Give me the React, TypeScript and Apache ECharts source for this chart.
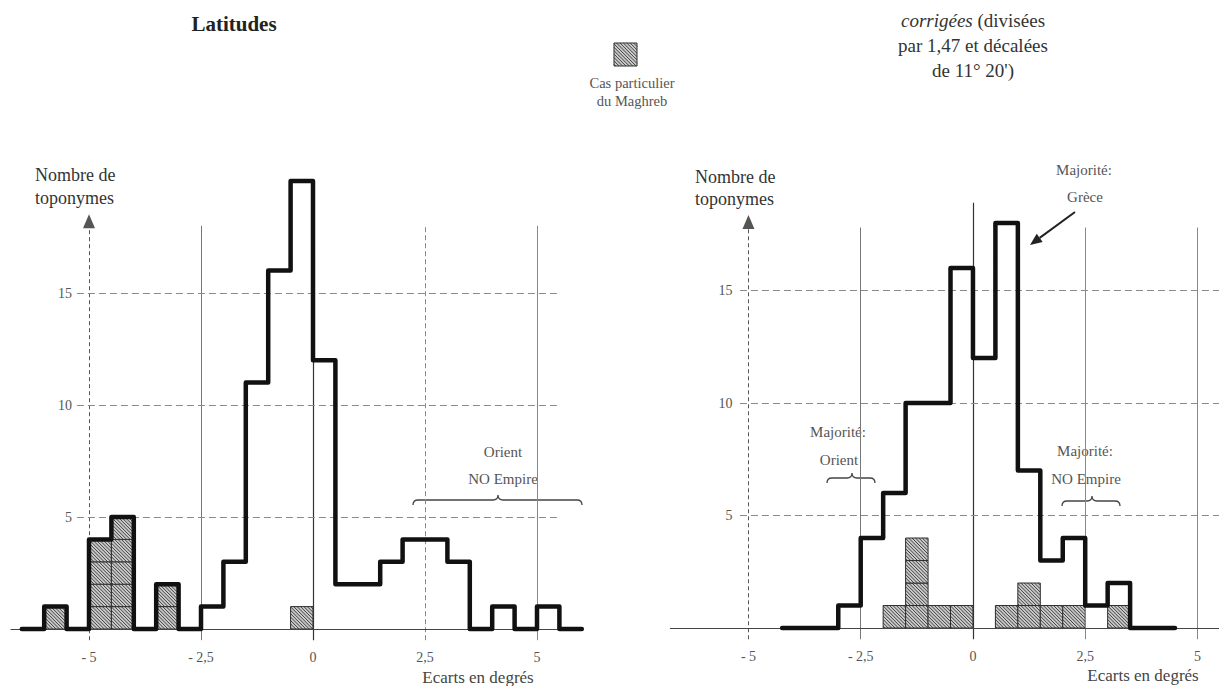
import React, { useEffect, useRef } from 'react';
import * as echarts from 'echarts';

// ---------- data ----------
const BIN_WIDTH = 0.5;

// Left histogram: latitudes
const leftBinStarts = [-6.5, -6, -5.5, -5, -4.5, -4, -3.5, -3, -2.5, -2, -1.5, -1, -0.5, 0, 0.5, 1, 1.5, 2, 2.5, 3, 3.5, 4, 4.5, 5, 5.5];
const leftCounts = [0, 1, 0, 4, 5, 0, 2, 0, 1, 3, 11, 16, 20, 12, 2, 2, 3, 4, 4, 3, 0, 1, 0, 1, 0];
const leftMaghrebStarts = [-6, -5, -4.5, -3.5, -0.5];
const leftMaghrebCounts = [1, 4, 5, 2, 1];

// Right histogram: longitudes corrigées
const rightStepStart = -4.25;
const rightBinStarts = [-4, -3.5, -3, -2.5, -2, -1.5, -1, -0.5, 0, 0.5, 1, 1.5, 2, 2.5, 3, 3.5, 4];
const rightCounts = [0, 0, 1, 4, 6, 10, 10, 16, 12, 18, 7, 3, 4, 1, 2, 0, 0];
const rightMaghrebStarts = [-2, -1.5, -1, -0.5, 0.5, 1, 1.5, 2, 3];
const rightMaghrebCounts = [1, 4, 1, 1, 1, 2, 1, 1, 1];

const xTickValues = [-5, -2.5, 0, 2.5, 5];
const yTickValues = [5, 10, 15];
const verticalGuideValues = [-2.5, 0, 2.5, 5];
const horizontalGuideValues = [5, 10, 15];

// ---------- layout ----------
const W = 1219;
const H = 686;
const FONT = 'Liberation Serif';

const LEFT = { xMin: -6.75, xMax: 6.25, yMin: -0.75, yMax: 20.5, left: 10.6, top: 169.8, width: 582.4, height: 476, yOffset: -78.4 };
const RIGHT = { xMin: -6.75, xMax: 5.5, yMin: -0.75, yMax: 20, left: 669.9, top: 178, width: 550, height: 466.9, yOffset: -79.5 };

function stepPoints(start: number | null, bins: number[], counts: number[]) {
  const pts: number[][] = [];
  if (start !== null) pts.push([start, 0]);
  bins.forEach((b, i) => {
    pts.push([b, counts[i]]);
    pts.push([b + BIN_WIDTH, counts[i]]);
  });
  return pts;
}

function hatchChildren(x: number, y: number, w: number, h: number) {
  const step = 3.4;
  const out: any[] = [{ type: 'rect', shape: { x, y, width: w, height: h }, style: { fill: '#c9c9c9' } }];
  for (let k = -h + step / 2; k < w; k += step) {
    const xs = Math.max(0, k);
    const xe = Math.min(w, h + k);
    if (xe - xs > 0.5) {
      out.push({ type: 'line', shape: { x1: x + xs, y1: y + xs - k, x2: x + xe, y2: y + xe - k }, style: { stroke: '#404040', lineWidth: 1 } });
    }
  }
  out.push({ type: 'rect', shape: { x, y, width: w, height: h }, style: { fill: 'none', stroke: '#2e2e2e', lineWidth: 1 } });
  return out;
}

function bracePath(x1: number, x2: number, y: number, tipX: number, d: number) {
  return `M ${x1} ${y + d} Q ${x1} ${y} ${x1 + d} ${y} L ${tipX - d} ${y} Q ${tipX} ${y} ${tipX} ${y - d} Q ${tipX} ${y} ${tipX + d} ${y} L ${x2 - d} ${y} Q ${x2} ${y} ${x2} ${y + d}`;
}

echarts.graphic.registerShape('braceLeftOrient', echarts.graphic.extendPath(bracePath(413, 582, 500, 498, 5), {}));
echarts.graphic.registerShape('braceRightOrient', echarts.graphic.extendPath(bracePath(827, 875, 478, 852, 5), {}));
echarts.graphic.registerShape('braceRightEmpire', echarts.graphic.extendPath(bracePath(1062, 1120, 501, 1092, 5), {}));

function fmtTick(v: number) {
  if (v === 0) return '0';
  const s = String(Math.abs(v)).replace('.', ',');
  return v < 0 ? '- ' + s : s;
}

function mkX(gridIndex: number, g: any) {
  return {
    type: 'value', gridIndex, min: g.xMin, max: g.xMax,
    axisLine: { show: false, onZero: false }, axisTick: { show: false }, splitLine: { show: false },
    axisLabel: { customValues: xTickValues, formatter: fmtTick, margin: 5, fontSize: 14, color: '#555', fontFamily: FONT },
  };
}
function mkY(gridIndex: number, g: any) {
  return {
    type: 'value', gridIndex, min: g.yMin, max: g.yMax, offset: g.yOffset,
    axisLine: { show: false, onZero: false }, axisTick: { show: false }, splitLine: { show: false },
    axisLabel: { customValues: yTickValues, margin: 17, fontSize: 14, color: '#555', fontFamily: FONT, padding: [0, 0, 5, 0] },
  };
}

function guideLines(cfg: any) {
  const data: any[] = [];
  data.push([
    { coord: [-5, -0.5], symbol: 'none', lineStyle: { type: [4, 3], color: '#555', width: 1 } },
    { coord: [-5, cfg.arrowTop], symbol: 'triangle', symbolSize: [12, 14], itemStyle: { color: '#222' } },
  ]);
  verticalGuideValues.forEach((v, i) => {
    data.push([
      { coord: [v, -0.5], symbol: 'none', lineStyle: cfg.vStyles[i] },
      { coord: [v, v === 0 ? cfg.zeroTop : cfg.vTop], symbol: 'none' },
    ]);
  });
  horizontalGuideValues.forEach((v) => {
    data.push([
      { coord: [cfg.hFrom, v], symbol: 'none', lineStyle: { type: [7, 4], color: '#8a8a8a', width: 1 } },
      { coord: [cfg.hTo, v], symbol: 'none' },
    ]);
  });
  data.push([
    { coord: [cfg.baseFrom, 0], symbol: 'none', lineStyle: { type: 'solid', color: '#444', width: 1 } },
    { coord: [cfg.baseTo, 0], symbol: 'none' },
  ]);
  return data;
}

function guideSeries(idx: number, cfg: any) {
  return {
    type: 'line', xAxisIndex: idx, yAxisIndex: idx, data: [[-5, 0]], symbol: 'none', silent: true, z: 1,
    lineStyle: { opacity: 0 },
    markLine: { silent: true, symbol: ['none', 'none'], label: { show: false }, animation: false, data: guideLines(cfg) },
  };
}

function hatchSeries(idx: number, starts: number[], counts: number[]) {
  return {
    type: 'custom', xAxisIndex: idx, yAxisIndex: idx, silent: true, z: 2,
    data: starts.map((s, i) => [s, counts[i]]),
    encode: { x: 0, y: 1 },
    renderItem: (params: any, api: any) => {
      const x0 = api.value(0);
      const n = api.value(1);
      const children: any[] = [];
      for (let j = 0; j < n; j++) {
        const tl = api.coord([x0, j + 1]);
        const br = api.coord([x0 + BIN_WIDTH, j]);
        children.push(...hatchChildren(tl[0], tl[1], br[0] - tl[0], br[1] - tl[1]));
      }
      return { type: 'group', children };
    },
  };
}

function stepSeries(idx: number, pts: number[][]) {
  return {
    type: 'line', xAxisIndex: idx, yAxisIndex: idx, data: pts, symbol: 'none', showSymbol: false, silent: true, z: 5,
    lineStyle: { color: '#111', width: 4.5, cap: 'round', join: 'round' },
  };
}

function txt(text: string, x: number, y: number, size: number, opts: any = {}) {
  return {
    type: 'text', x, y, silent: true,
    style: { text, fontSize: size, fontFamily: FONT, fill: opts.fill || '#444', align: opts.align || 'center', verticalAlign: 'middle', fontWeight: opts.bold ? 'bold' : 'normal' },
  };
}

function buildOption() {
  const leftCfg = {
    arrowTop: 18.2, vTop: 18, zeroTop: 18, hFrom: -5.27, hTo: 5.45, baseFrom: -6.75, baseTo: 6.0,
    vStyles: [
      { type: 'solid', color: '#777', width: 1 },
      { type: 'solid', color: '#333', width: 1.2 },
      { type: [5, 3], color: '#888', width: 1 },
      { type: 'solid', color: '#888', width: 1 },
    ],
  };
  const rightCfg = {
    arrowTop: 18.05, vTop: 17.8, zeroTop: 18.9, hFrom: -5.19, hTo: 5.5, baseFrom: -6.75, baseTo: 5.5,
    vStyles: [
      { type: 'solid', color: '#777', width: 1 },
      { type: 'solid', color: '#333', width: 1.2 },
      { type: 'solid', color: '#888', width: 1 },
      { type: 'solid', color: '#888', width: 1 },
    ],
  };

  // annotation arrow (Majorité: Grèce)
  const ax1 = 1075, ay1 = 212, ax2 = 1030, ay2 = 245;
  const len = Math.hypot(ax2 - ax1, ay2 - ay1);
  const ux = (ax2 - ax1) / len, uy = (ay2 - ay1) / len;
  const bx = ax2 - 12 * ux, by = ay2 - 12 * uy;
  const px = -uy * 5, py = ux * 5;

  const graphic: any[] = [
    txt('Latitudes', 234, 24, 21, { bold: true, fill: '#222' }),
    {
      type: 'text', x: 973, y: 20, silent: true,
      style: {
        text: '{i|corrigées}{n| (divisées}', fontSize: 19, fontFamily: FONT, fill: '#333', align: 'center', verticalAlign: 'middle',
        rich: {
          i: { fontStyle: 'italic', fontSize: 19, fontFamily: FONT, fill: '#333' },
          n: { fontSize: 19, fontFamily: FONT, fill: '#333' },
        },
      },
    },
    txt('par 1,47 et décalées', 973, 45, 19, { fill: '#333' }),
    txt("de 11° 20')", 973, 70, 19, { fill: '#333' }),
    { type: 'group', silent: true, children: hatchChildren(614, 43, 23, 23) },
    txt('Cas particulier', 632, 83, 14.5, { fill: '#555' }),
    txt('du Maghreb', 632, 101, 14.5, { fill: '#555' }),
    txt('Nombre de', 35, 175, 18, { align: 'left', fill: '#333' }),
    txt('toponymes', 35, 198, 18, { align: 'left', fill: '#333' }),
    txt('Nombre de', 695, 177, 18, { align: 'left', fill: '#333' }),
    txt('toponymes', 695, 199, 18, { align: 'left', fill: '#333' }),
    txt('Majorité:', 1084, 170, 15, { fill: '#555' }),
    txt('Grèce', 1085, 197, 15, { fill: '#555' }),
    { type: 'line', silent: true, shape: { x1: ax1, y1: ay1, x2: bx, y2: by }, style: { stroke: '#222', lineWidth: 2 } },
    { type: 'polygon', silent: true, shape: { points: [[ax2, ay2], [bx + px, by + py], [bx - px, by - py]] }, style: { fill: '#222' } },
    txt('Orient', 503, 452, 15, { fill: '#555' }),
    txt('NO Empire', 503, 479, 15, { fill: '#555' }),
    { type: 'braceLeftOrient', x: 0, y: 0, silent: true, style: { stroke: '#444', fill: 'none', lineWidth: 1.3 } },
    txt('Majorité:', 838, 432, 15, { fill: '#555' }),
    txt('Orient', 839, 460, 15, { fill: '#555' }),
    { type: 'braceRightOrient', x: 0, y: 0, silent: true, style: { stroke: '#444', fill: 'none', lineWidth: 1.3 } },
    txt('Majorité:', 1085, 451, 15, { fill: '#555' }),
    txt('NO Empire', 1086, 479, 15, { fill: '#555' }),
    { type: 'braceRightEmpire', x: 0, y: 0, silent: true, style: { stroke: '#444', fill: 'none', lineWidth: 1.3 } },
    txt('Ecarts en degrés', 478, 677, 17, { fill: '#444' }),
    txt('Ecarts en degrés', 1143, 675, 17, { fill: '#444' }),
  ];

  return {
    animation: false,
    backgroundColor: '#ffffff',
    textStyle: { fontFamily: FONT },
    grid: [
      { left: LEFT.left, top: LEFT.top, width: LEFT.width, height: LEFT.height, containLabel: false, outerBoundsMode: 'none' },
      { left: RIGHT.left, top: RIGHT.top, width: RIGHT.width, height: RIGHT.height, containLabel: false, outerBoundsMode: 'none' },
    ],
    xAxis: [mkX(0, LEFT), mkX(1, RIGHT)],
    yAxis: [mkY(0, LEFT), mkY(1, RIGHT)],
    series: [
      guideSeries(0, leftCfg),
      hatchSeries(0, leftMaghrebStarts, leftMaghrebCounts),
      stepSeries(0, stepPoints(null, leftBinStarts, leftCounts)),
      guideSeries(1, rightCfg),
      hatchSeries(1, rightMaghrebStarts, rightMaghrebCounts),
      stepSeries(1, stepPoints(rightStepStart, rightBinStarts, rightCounts)),
    ],
    graphic,
  };
}

export default function App() {
  const ref = useRef<HTMLDivElement>(null);
  useEffect(() => {
    if (!ref.current) return;
    const chart = echarts.init(ref.current, null, { renderer: 'svg', width: W, height: H });
    chart.setOption(buildOption() as any);
    return () => chart.dispose();
  }, []);
  return <div ref={ref} style={{ position: 'absolute', left: 0, top: 0, width: W, height: H, background: '#fff' }} />;
}
